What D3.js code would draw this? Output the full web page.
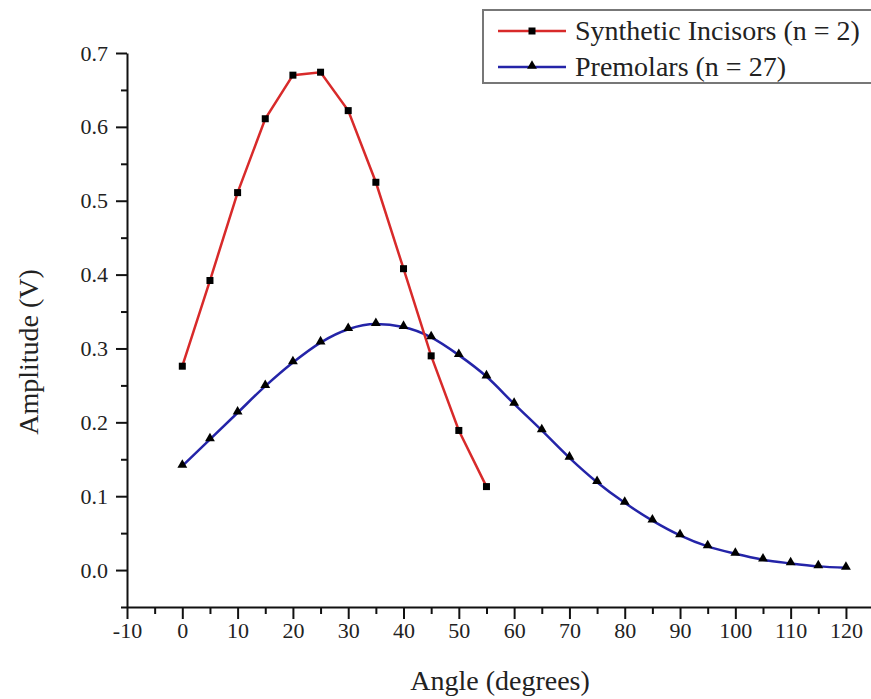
<!DOCTYPE html>
<html>
<head>
<meta charset="utf-8">
<script src="https://cdn.jsdelivr.net/npm/d3@7"></script>
<style>
  body { margin: 0; background: #fff; }
  svg { display: block; }
  svg text { font-family: "Liberation Serif", "Times New Roman", Times, "DejaVu Serif", serif; }
</style>
</head>
<body>
<div id="chart"></div>
<script>
// angles (degrees)
var incisorAngles = [0, 5, 10, 15, 20, 25, 30, 35, 40, 45, 50, 55];
var incisorAmps = [0.276, 0.392, 0.511, 0.611, 0.670, 0.674, 0.622, 0.525, 0.408, 0.290, 0.189, 0.113];

var premolarAngles = [0, 5, 10, 15, 20, 25, 30, 35, 40, 45, 50, 55, 60, 65, 70, 75, 80, 85, 90, 95, 100, 105, 110, 115, 120];
var premolarAmps = [0.141, 0.177, 0.213, 0.249, 0.281, 0.308, 0.326, 0.333, 0.329, 0.315, 0.291, 0.262, 0.225, 0.189, 0.152, 0.119, 0.091, 0.067, 0.047, 0.032, 0.022, 0.014, 0.009, 0.005, 0.003];

var seriesNames = ["Synthetic Incisors (n = 2)", "Premolars (n = 27)"];
var xTicks = [-10, 0, 10, 20, 30, 40, 50, 60, 70, 80, 90, 100, 110, 120];
var yTicks = [0.0, 0.1, 0.2, 0.3, 0.4, 0.5, 0.6, 0.7];

var width = 871;
var height = 699;

var redColor = "#d82a2a";
var blueColor = "#2424a8";

var svg = d3.select('#chart')
    .append('svg')
    .attr('width', width)
    .attr('height', height);

var x = d3.scaleLinear().domain([-10, 125]).range([127, 873.6]);
var y = d3.scaleLinear().domain([-0.05, 0.7]).range([607, 53]);

// minor ticks first, then the major axes on top
var xMinor = d3.range(-5, 125, 10);
var yMinor = [-0.05, 0.05, 0.15, 0.25, 0.35, 0.45, 0.55, 0.65];

svg.append('g')
    .attr('transform', 'translate(0,' + y(-0.05) + ')')
    .call(d3.axisBottom(x).tickValues(xMinor).tickSize(7).tickSizeOuter(0).tickFormat(''))
    .call(function(g) { g.select('.domain').remove(); });

svg.append('g')
    .attr('transform', 'translate(' + x(-10) + ',0)')
    .call(d3.axisLeft(y).tickValues(yMinor).tickSize(6).tickSizeOuter(0).tickFormat(''))
    .call(function(g) { g.select('.domain').remove(); });

var xAxis = svg.append('g')
    .attr('transform', 'translate(0,' + y(-0.05) + ')')
    .call(d3.axisBottom(x).tickValues(xTicks).tickSize(12).tickSizeOuter(0).tickPadding(3)
        .tickFormat(function(d) { return String(d); }));

var yAxis = svg.append('g')
    .attr('transform', 'translate(' + x(-10) + ',0)')
    .call(d3.axisLeft(y).tickValues(yTicks).tickSize(11).tickSizeOuter(0).tickPadding(8)
        .tickFormat(function(d) { return d.toFixed(1); }));

svg.selectAll('.tick line').attr('stroke', '#111').attr('stroke-width', 2);
svg.selectAll('.domain').attr('stroke', '#111').attr('stroke-width', 2);
svg.selectAll('.tick text')
    .attr('fill', '#222')
    .attr('font-family', null)
    .style('font-size', '22px');
xAxis.attr('font-family', null);
yAxis.attr('font-family', null);

// axis titles
svg.append('text')
    .attr('x', 500)
    .attr('y', 690)
    .attr('text-anchor', 'middle')
    .attr('fill', '#222')
    .style('font-size', '28px')
    .text('Angle (degrees)');

svg.append('text')
    .attr('transform', 'translate(38,352) rotate(-90)')
    .attr('text-anchor', 'middle')
    .attr('fill', '#222')
    .style('font-size', '28px')
    .text('Amplitude (V)');

// data
var incisorData = incisorAngles.map(function(a, i) { return { x: a, y: incisorAmps[i] }; });
var premolarData = premolarAngles.map(function(a, i) { return { x: a, y: premolarAmps[i] }; });

var line = d3.line()
    .x(function(d) { return x(d.x); })
    .y(function(d) { return y(d.y); });

var smoothLine = d3.line()
    .curve(d3.curveMonotoneX)
    .x(function(d) { return x(d.x); })
    .y(function(d) { return y(d.y); });

svg.append('path')
    .datum(premolarData)
    .attr('d', smoothLine)
    .attr('fill', 'none')
    .attr('stroke', blueColor)
    .attr('stroke-width', 2.5);

svg.append('path')
    .datum(incisorData)
    .attr('d', line)
    .attr('fill', 'none')
    .attr('stroke', redColor)
    .attr('stroke-width', 2.5);

var triangle = d3.symbol().type(d3.symbolTriangle).size(42);

svg.selectAll('.tri')
    .data(premolarData)
    .enter()
    .append('path')
    .attr('class', 'tri')
    .attr('d', triangle)
    .attr('transform', function(d) { return 'translate(' + x(d.x) + ',' + (y(d.y) - 1) + ')'; })
    .attr('fill', '#000');

svg.selectAll('.sq')
    .data(incisorData)
    .enter()
    .append('rect')
    .attr('class', 'sq')
    .attr('x', function(d) { return x(d.x) - 3.5; })
    .attr('y', function(d) { return y(d.y) - 3.5; })
    .attr('width', 7)
    .attr('height', 7)
    .attr('fill', '#000');

// legend
var legend = svg.append('g');

legend.append('rect')
    .attr('x', 483)
    .attr('y', 10)
    .attr('width', 420)
    .attr('height', 73)
    .attr('fill', '#fff')
    .attr('stroke', '#777')
    .attr('stroke-width', 2);

var legendRows = [
    { name: seriesNames[0], color: redColor, marker: 'square', cy: 31 },
    { name: seriesNames[1], color: blueColor, marker: 'triangle', cy: 67 }
];

legendRows.forEach(function(r) {
    legend.append('line')
        .attr('x1', 498).attr('x2', 566)
        .attr('y1', r.cy).attr('y2', r.cy)
        .attr('stroke', r.color)
        .attr('stroke-width', 2.5);
    if (r.marker == 'square') {
        legend.append('rect')
            .attr('x', 528.5).attr('y', r.cy - 3.5)
            .attr('width', 7).attr('height', 7)
            .attr('fill', '#000');
    } else {
        legend.append('path')
            .attr('d', triangle)
            .attr('transform', 'translate(532,' + (r.cy - 1) + ')')
            .attr('fill', '#000');
    }
    legend.append('text')
        .attr('x', 575)
        .attr('y', r.cy + 9)
        .attr('fill', '#222')
        .style('font-size', '28px')
        .text(r.name);
});
</script>
</body>
</html>
